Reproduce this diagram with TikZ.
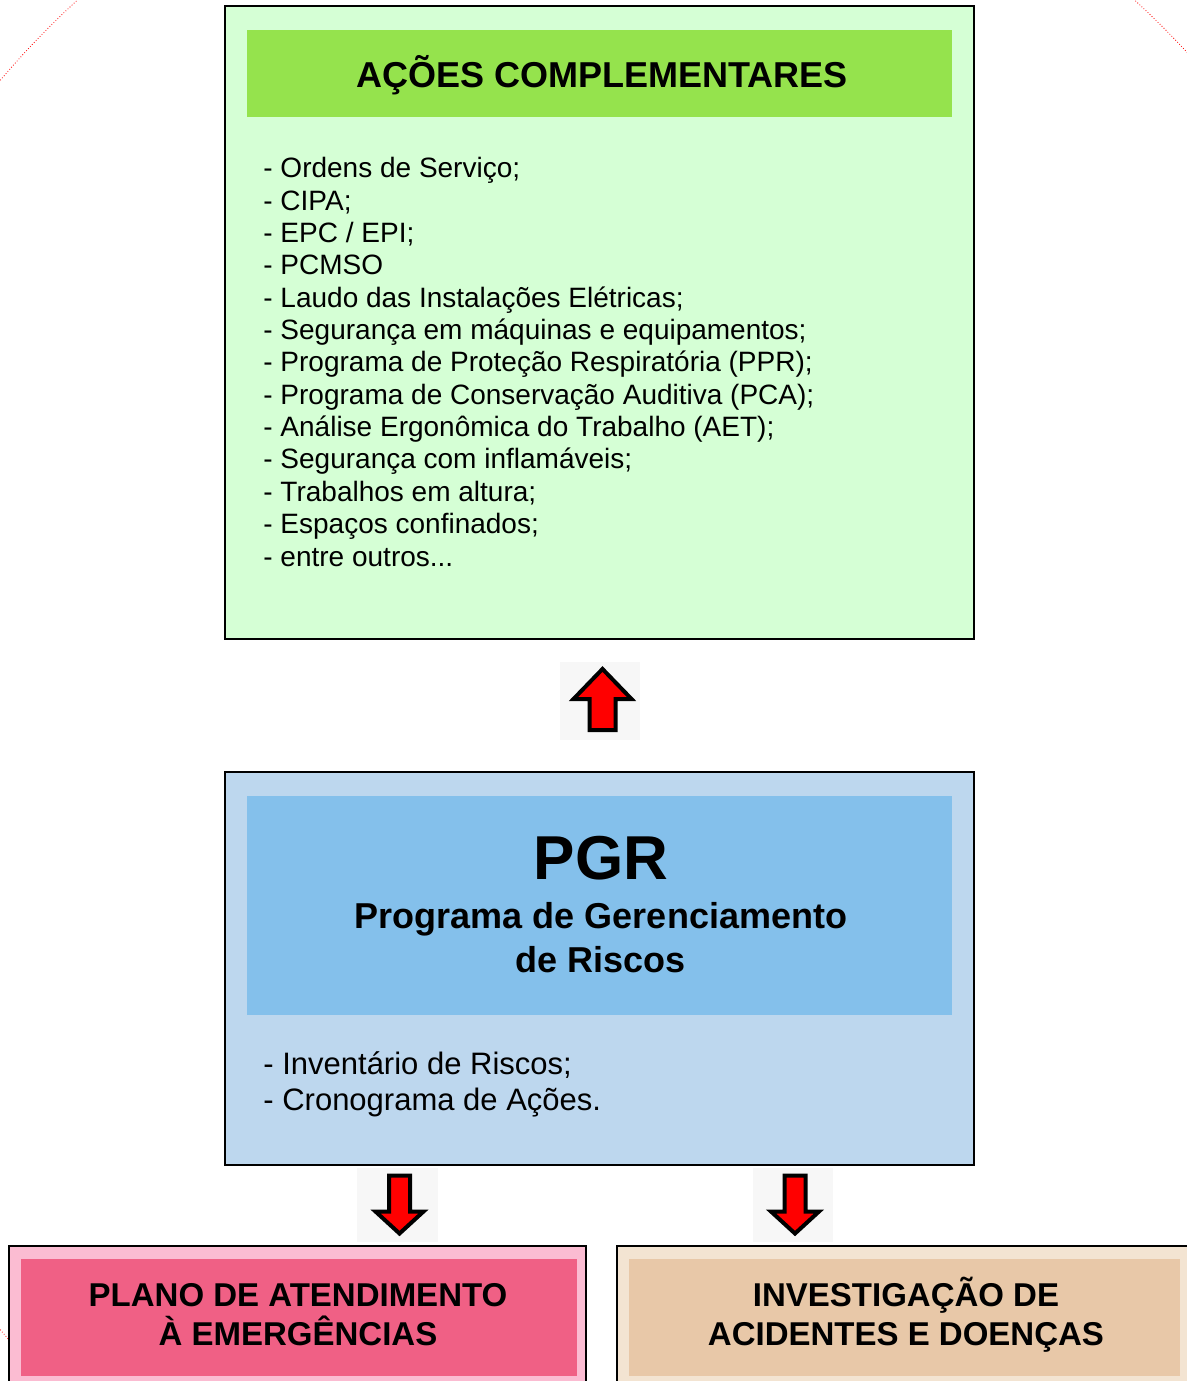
\documentclass[tikz,border=0pt]{standalone}
\usepackage{fontspec}
\setmainfont{Liberation Sans}
\usetikzlibrary{positioning}
\definecolor{greenback}{RGB}{213,255,213}
\definecolor{greenhead}{RGB}{149,227,77}
\definecolor{blueback}{RGB}{189,215,238}
\definecolor{bluehead}{RGB}{132,192,235}
\definecolor{pinkback}{RGB}{251,188,210}
\definecolor{pinkhead}{RGB}{240,96,133}
\definecolor{sandback}{RGB}{243,228,210}
\definecolor{sandhead}{RGB}{232,200,168}
\tikzset{outer/.style={rectangle,draw,line width=1pt,inner sep=0pt}}
\tikzset{inner/.style={rectangle,inner sep=0pt}}
\tikzset{items/.style={align=left,inner sep=0pt,anchor=base west}}
\tikzset{heading/.style={inner sep=0pt,anchor=base,align=center,font=\bfseries\fontsize{18}{22}\selectfont}}
\tikzset{bottomtitle/.style={inner sep=0pt,anchor=base,align=center,font=\bfseries\fontsize{16.5}{19.5}\selectfont}}
\tikzset{redarrow/.style={draw,fill=red,line width=2pt}}
\tikzset{arrowbg/.style={fill=black!3,draw=none}}
\tikzset{pics/uparrow/.style={code={
  \draw[redarrow] (0,-30) -- (29,0) -- (13,0) -- (13,31) -- (-13,31) -- (-13,0) -- (-29,0) -- cycle;}}}
\tikzset{pics/downarrow/.style={code={
  \draw[redarrow] (0,29) -- (24,7) -- (10.5,7) -- (10.5,-29) -- (-10.5,-29) -- (-10.5,7) -- (-24,7) -- cycle;}}}

\begin{document}
\begin{tikzpicture}[x=0.5pt,y=-0.5pt]
    \useasboundingbox (0,0) rectangle (1187,1381);
    \clip (0,0) rectangle (1187,1381);

    % red dotted ring behind everything
    \draw[red,densely dotted,line width=0.4pt] (606,705) ellipse [x radius=829,y radius=915];

    % complementary actions
    \node[outer,fill=greenback,minimum width=374.5pt,minimum height=316.5pt] (acoes) at (599.5,322.5) {};
    \node[inner,fill=greenhead,minimum width=352.5pt,minimum height=43.5pt,above of=acoes,node distance=124.5pt] (acoeshead) {};
    \node[heading] (acoestitle) at (602,87) {AÇÕES COMPLEMENTARES};
    % base of a multi-line node is its last line
    \node[items,font=\fontsize{14}{16.17}\selectfont] (acoeslist) at (263,566) {%
      - Ordens de Serviço;\\
      - CIPA;\\
      - EPC / EPI;\\
      - PCMSO\\
      - Laudo das Instalações Elétricas;\\
      - Segurança em máquinas e equipamentos;\\
      - Programa de Proteção Respiratória (PPR);\\
      - Programa de Conservação Auditiva (PCA);\\
      - Análise Ergonômica do Trabalho (AET);\\
      - Segurança com inflamáveis;\\
      - Trabalhos em altura;\\
      - Espaços confinados;\\
      - entre outros...};

    % PGR
    \node[outer,fill=blueback,minimum width=374.5pt,minimum height=196.5pt] (pgr) at (599.5,968.5) {};
    \node[inner,fill=bluehead,minimum width=352.5pt,minimum height=109.5pt,above of=pgr,node distance=31.5pt] (pgrhead) {};
    \node[heading,font=\bfseries\fontsize{31}{36}\selectfont] (pgrtitle) at (601,879) {PGR};
    \node[heading] (pgrname) at (601,972) {Programa de Gerenciamento\\de Riscos};
    \node[items,font=\fontsize{15.5}{18}\selectfont] (pgrlist) at (263,1110) {%
      - Inventário de Riscos;\\
      - Cronograma de Ações.};

    % emergencies and investigation
    \node[outer,fill=pinkback,minimum width=288.5pt,minimum height=71.5pt] (plano) at (297.5,1317.5) {};
    \node[inner,fill=pinkhead,minimum width=278pt,minimum height=58.5pt] (planohead) at (299,1317.5) {};
    \node[bottomtitle] (planotitle) at (298,1345) {PLANO DE ATENDIMENTO\\À EMERGÊNCIAS};

    \node[outer,fill=sandback,minimum width=287.5pt,minimum height=71.5pt] (invest) at (904.5,1317.5) {};
    \node[inner,fill=sandhead,minimum width=275.5pt,minimum height=58.5pt] (investhead) at (904.5,1317.5) {};
    \node[bottomtitle] (investtitle) at (906,1345) {INVESTIGAÇÃO DE\\ACIDENTES E DOENÇAS};

    % block arrows
    \fill[arrowbg] (560,662) rectangle (640,740);
    \fill[arrowbg] (357,1168) rectangle (438,1242);
    \fill[arrowbg] (753,1168) rectangle (833,1242);
    \pic at (602.5,699) {uparrow};
    \pic at (399.5,1204.5) {downarrow};
    \pic at (795,1204.5) {downarrow};
\end{tikzpicture}
\end{document}
